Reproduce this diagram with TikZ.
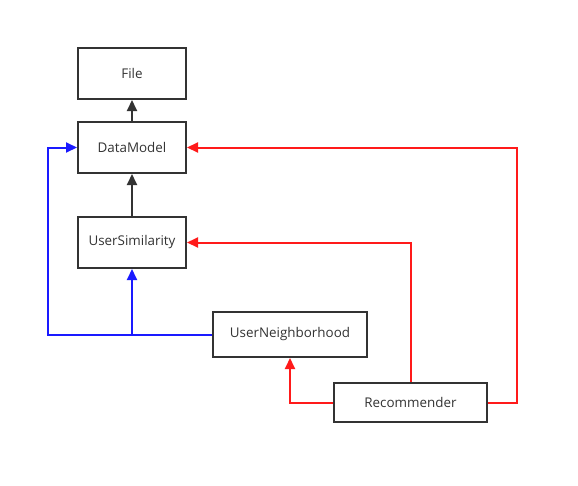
\documentclass[tikz,border=0pt]{standalone}
\usepackage{fontspec}
\setmainfont{Open Sans}
\usetikzlibrary{arrows.meta,positioning}
\definecolor{boxline}{HTML}{333333}
\definecolor{redline}{HTML}{FF1A1A}
\definecolor{blueline}{HTML}{1A1AFF}
\tikzset{
  classbox/.style={draw=boxline, line width=2pt, fill=white, inner sep=0pt,
    font=\fontsize{13.4}{15}\selectfont, text=boxline},
  conn/.style={line width=2pt, -{Triangle[length=11pt,width=10pt]}},
  blk/.style={conn, draw=boxline},
  rd/.style={conn, draw=redline},
  bl/.style={conn, draw=blueline},
}
\begin{document}
\begin{tikzpicture}[x=1pt,y=-1pt]
\useasboundingbox (0,0) rectangle (578,485);
\node[classbox, minimum width=108pt, minimum height=51pt] (file) at (132,73.5) {File};
\node[classbox, minimum width=108pt, minimum height=51pt] (dm) at (132,147.5) {DataModel};
\node[classbox, minimum width=108pt, minimum height=51pt] (us) at (132,242.5) {UserSimilarity};
\node[classbox, minimum width=154pt, minimum height=45pt] (un) at (290,334.5) {UserNeighborhood};
\node[classbox, minimum width=153pt, minimum height=39pt] (rec) at (410.5,402.5) {Recommender};
\coordinate (bl1) at (48,334.5);
\coordinate (rr1) at (517,402.5);
\draw[blk] (dm.north) -- (file.south);
\draw[blk] (us.north) -- (dm.south);
\draw[bl] (un.west) -- (bl1) |- (dm.west);
\draw[bl] (un.west) -| (us.south);
\draw[rd] (rec.east) -- (rr1) |- (dm.east);
\draw[rd] (rec.north) |- (us.east);
\draw[rd] (rec.west) -| (un.south);
\end{tikzpicture}
\end{document}
